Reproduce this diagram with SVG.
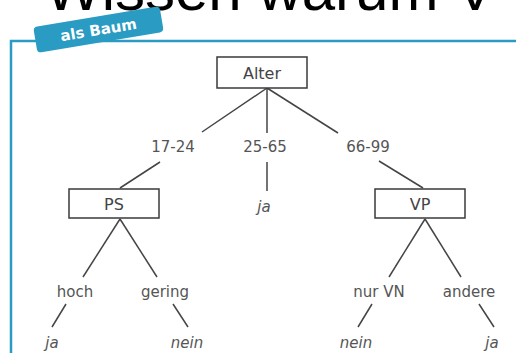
<svg xmlns="http://www.w3.org/2000/svg" width="516" height="353" viewBox="0 0 516 353">
<style>
.box{fill:#fff;stroke:#3a3a3a;stroke-width:1.5}
.lbl{font-family:"DejaVu Sans",Verdana,sans-serif;font-size:16px;fill:#444;text-anchor:middle}
.edge{font-family:"DejaVu Sans",Verdana,sans-serif;font-size:15px;fill:#555;text-anchor:middle}
.leaf{font-family:"DejaVu Sans",Verdana,sans-serif;font-size:15px;font-style:italic;fill:#555;text-anchor:middle}
.ln{stroke:#444;stroke-width:1.5;fill:none}
</style>
<rect width="516" height="353" fill="#fff"/>
<text x="45" y="10" font-family="'Liberation Sans',Arial,sans-serif" font-size="60" fill="#000">Wissen warum V</text>
<path d="M11 353 V41 H516" fill="none" stroke="#2a9bc2" stroke-width="2.5"/>
<g id="tag" transform="translate(98.5,29.5) rotate(-9.5)">
<rect x="-64" y="-13" width="128" height="26" rx="4" fill="#2a9bc2"/>
<text x="0" y="5.5" text-anchor="middle" font-family="'DejaVu Sans',Verdana,sans-serif" font-size="15" font-weight="bold" fill="#fff">als Baum</text>
</g>
<g id="connectors">
<path class="ln" d="M267 88 L202 132"/>
<path class="ln" d="M160 162 L120 188"/>
<path class="ln" d="M267 88 V133"/>
<path class="ln" d="M267 162 V191"/>
<path class="ln" d="M267 88 L338 133"/>
<path class="ln" d="M379 161 L423 188"/>
<path class="ln" d="M120 219 L83 277"/>
<path class="ln" d="M120 219 L157 277"/>
<path class="ln" d="M66 304 L52 327"/>
<path class="ln" d="M173 304 L188 327"/>
<path class="ln" d="M425 219 L389 277"/>
<path class="ln" d="M425 219 L461 277"/>
<path class="ln" d="M372 304 L358 327"/>
<path class="ln" d="M479 304 L494 327"/>
</g>
<g id="alter"><rect class="box" x="217" y="57" width="90" height="31"/><text class="lbl" x="262" y="79">Alter</text></g>
<g id="ps"><rect class="box" x="69" y="189" width="90" height="29"/><text class="lbl" x="114" y="210">PS</text></g>
<g id="vp"><rect class="box" x="375" y="189" width="90" height="29"/><text class="lbl" x="420" y="210">VP</text></g>
<g id="e1724"><text class="edge" x="173" y="152">17-24</text></g>
<g id="e2565"><text class="edge" x="265" y="152">25-65</text></g>
<g id="e6699"><text class="edge" x="368" y="152">66-99</text></g>
<g id="ja1"><text class="leaf" x="264" y="212">ja</text></g>
<g id="hoch"><text class="edge" x="75" y="297">hoch</text></g>
<g id="gering"><text class="edge" x="165" y="297">gering</text></g>
<g id="nurvn"><text class="edge" x="379" y="297">nur VN</text></g>
<g id="andere"><text class="edge" x="469" y="297">andere</text></g>
<g id="ja2"><text class="leaf" x="52" y="348">ja</text></g>
<g id="nein1"><text class="leaf" x="187" y="348">nein</text></g>
<g id="nein2"><text class="leaf" x="356" y="348">nein</text></g>
<g id="ja3"><text class="leaf" x="492" y="348">ja</text></g>
</svg>
